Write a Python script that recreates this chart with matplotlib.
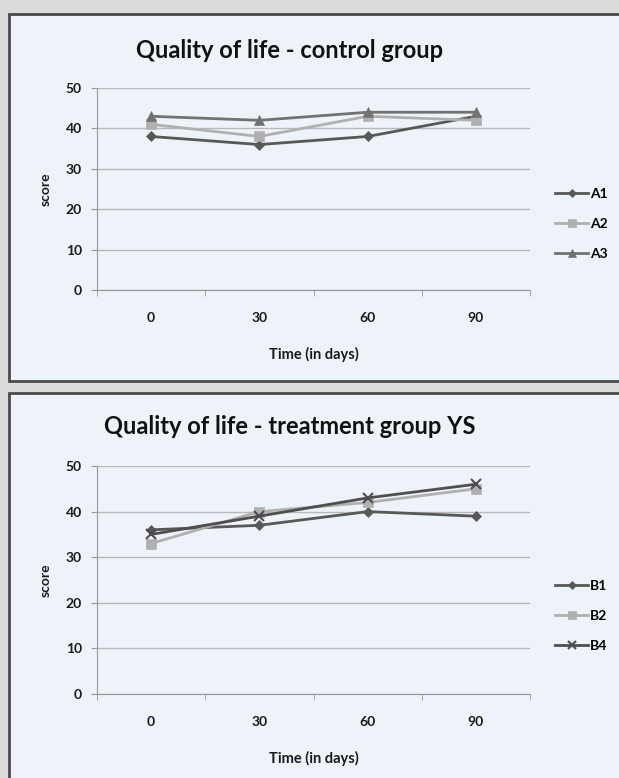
import numpy as np
import matplotlib.pyplot as plt
from matplotlib.patches import Rectangle

# data
days = ['0', '30', '60', '90']
A1 = [38, 36, 38, 43]
A2 = [41, 38, 43, 42]
A3 = [43, 42, 44, 44]
B1 = [36, 37, 40, 39]
B2 = [33, 40, 42, 45]
B4 = [35, 39, 43, 46]

W, H = 619, 778
plt.rcParams['font.family'] = ['Lato', 'DejaVu Sans']

fig = plt.figure(figsize=(W / 100, H / 100), dpi=100)
fig.patch.set_facecolor('#dcdcdc')

def px_rect(x0, y0, x1, y1):
    """pixel box (top-left origin) -> figure fraction [l, b, w, h]"""
    return [x0 / W, (H - y1) / H, (x1 - x0) / W, (y1 - y0) / H]

# panel backgrounds with dark border
for (y0, y1) in [(14, 381), (393, 792)]:
    l, b, w, h = px_rect(9, y0, 640, y1)
    fig.patches.append(Rectangle((l, b), w, h, transform=fig.transFigure,
                                 facecolor='#eef2f9', edgecolor='#4a4a4a',
                                 linewidth=2, zorder=-10))

def draw_panel(ax, series, names, markers, colors, title, title_y, leg_y):
    x = np.arange(len(days))
    for vals, name, mk, col in zip(series, names, markers, colors):
        ms = {'D': 5.5, 's': 6.5, '^': 7, 'x': 7}[mk]
        ax.plot(x, vals, color=col, marker=mk, markersize=ms, linewidth=2,
                markeredgewidth=1.5 if mk == 'x' else 0.5, label=name)
    ax.set_facecolor('none')
    ax.set_xlim(-0.5, 3.5)
    ax.set_ylim(0, 50)
    ax.set_yticks([0, 10, 20, 30, 40, 50])
    ax.yaxis.grid(True, color='#b8b8b8', linewidth=1)
    ax.set_axisbelow(True)
    ax.set_xticks(x)
    ax.set_xticklabels(days)
    ax.set_xticks(np.arange(-0.5, 4, 1), minor=True)
    ax.tick_params(axis='x', which='major', length=0, pad=15.5)
    ax.tick_params(axis='x', which='minor', length=4, color='#999999')
    ax.tick_params(axis='y', length=4, color='#999999', pad=7)
    for lab in ax.get_xticklabels() + ax.get_yticklabels():
        lab.set_fontweight('bold')
        lab.set_fontsize(10)
        lab.set_color('#1a1a1a')
    for s in ['top', 'right']:
        ax.spines[s].set_visible(False)
    for s in ['left', 'bottom']:
        ax.spines[s].set_color('#999999')
    ax.set_xlabel('Time (in days)', fontsize=10.5, fontweight='bold',
                  labelpad=17, color='#1a1a1a')
    ax.set_ylabel('score', fontsize=10, fontweight='bold', labelpad=10,
                  color='#1a1a1a')
    fig.text(290 / W, (H - title_y) / H, title, ha='center', va='center',
             fontsize=17, fontweight='bold', color='#111111')
    ax.legend(loc='center left', bbox_to_anchor=(555 / W, (H - leg_y) / H),
              bbox_transform=fig.transFigure, frameon=False, handlelength=2.4,
              handletextpad=0.1, labelspacing=1.3, borderaxespad=0,
              borderpad=0, markerscale=0.8,
              prop={'weight': 'bold', 'size': 10})

ax1 = fig.add_axes(px_rect(97, 88, 530, 290))
draw_panel(ax1, [A1, A2, A3], ['A1', 'A2', 'A3'], ['D', 's', '^'],
           ['#585858', '#b0b0b0', '#727272'],
           'Quality of life - control group', 50, 224)

ax2 = fig.add_axes(px_rect(97, 466, 530, 694))
draw_panel(ax2, [B1, B2, B4], ['B1', 'B2', 'B4'], ['D', 's', 'x'],
           ['#585858', '#b0b0b0', '#4e4e4e'],
           'Quality of life - treatment group YS', 427, 616)

fig.savefig('out.png', dpi=100, facecolor=fig.get_facecolor())
